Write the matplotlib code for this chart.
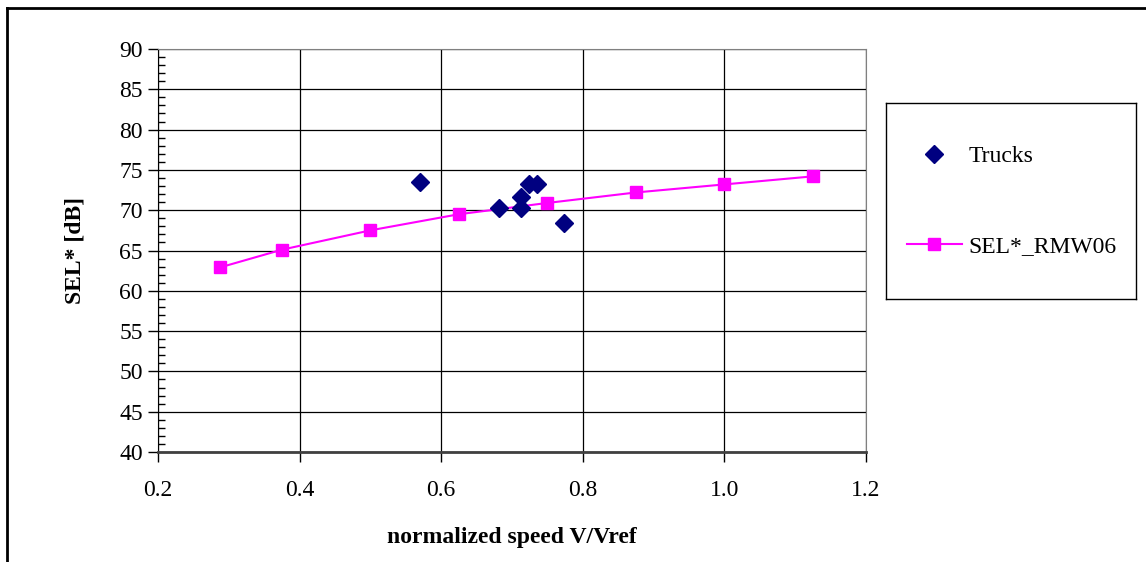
import matplotlib
matplotlib.use("Agg")
from matplotlib import pyplot as plt
from matplotlib.lines import Line2D
from matplotlib.ticker import MultipleLocator, FormatStrFormatter

# measured trucks
truck_speed = [0.570, 0.682, 0.713, 0.713, 0.724, 0.735, 0.774]
truck_sel = [73.5, 70.3, 71.6, 70.3, 73.3, 73.3, 68.4]

# model curve
model_speed = [0.2875, 0.375, 0.5, 0.625, 0.75, 0.875, 1.0, 1.125]
model_sel = [62.9, 65.1, 67.5, 69.5, 70.9, 72.2, 73.2, 74.2]

plt.rcParams['font.family'] = ['Liberation Serif', 'DejaVu Serif']

fig = plt.figure(figsize=(11.46, 5.62), dpi=100)
ax = fig.add_axes([158 / 1146, 1 - 452 / 562, (866 - 158) / 1146, (452 - 49) / 562])

ax.plot(model_speed, model_sel, color='#FF00FF', lw=1.5, marker='s', ms=9,
        label='SEL*_RMW06', zorder=3)
ax.plot(truck_speed, truck_sel, ls='none', marker='D', ms=9.5, color='#000080',
        label='Trucks', zorder=4)

ax.set_xlim(0.2, 1.2)
ax.set_ylim(40, 90)
ax.xaxis.set_major_locator(MultipleLocator(0.2))
ax.xaxis.set_major_formatter(FormatStrFormatter('%.1f'))
ax.yaxis.set_major_locator(MultipleLocator(5))
ax.yaxis.set_minor_locator(MultipleLocator(1))
ax.grid(True, which='major', color='black', lw=0.9)
ax.tick_params(axis='both', which='major', direction='out', length=7, width=1,
               labelsize=17, color='black')
ax.tick_params(axis='y', which='minor', direction='in', length=5, width=1)
ax.tick_params(axis='y', which='major', pad=4)
ax.tick_params(axis='x', pad=13)

for side in ['top', 'right']:
    ax.spines[side].set_color('#808080')
ax.spines['left'].set_color('black')
ax.spines['bottom'].set_color('#404040')
ax.spines['bottom'].set_linewidth(2)

ax.set_xlabel('normalized speed V/Vref', fontsize=17, fontweight='bold', labelpad=19)
ax.set_ylabel('SEL* [dB]', fontsize=17, fontweight='bold', labelpad=24)

# legend box
lax = fig.add_axes([886 / 1146, 1 - 299 / 562, (1136 - 886) / 1146, (299 - 103) / 562])
lax.set_xticks([])
lax.set_yticks([])
for s in lax.spines.values():
    s.set_color('black')
    s.set_linewidth(1)
handles, labels = ax.get_legend_handles_labels()
lax.legend(handles[::-1], labels[::-1], loc='center left', frameon=False, fontsize=17,
           labelspacing=2.9, handlelength=2.3, handletextpad=0.3, borderaxespad=0.5)

# outer border
fig.add_artist(Line2D([7 / 1146, 7 / 1146], [0, 1 - 8 / 562], transform=fig.transFigure,
                      color='black', lw=2))
fig.add_artist(Line2D([7 / 1146, 1], [1 - 8 / 562, 1 - 8 / 562], transform=fig.transFigure,
                      color='black', lw=2))

fig.savefig('out.png', dpi=100)
